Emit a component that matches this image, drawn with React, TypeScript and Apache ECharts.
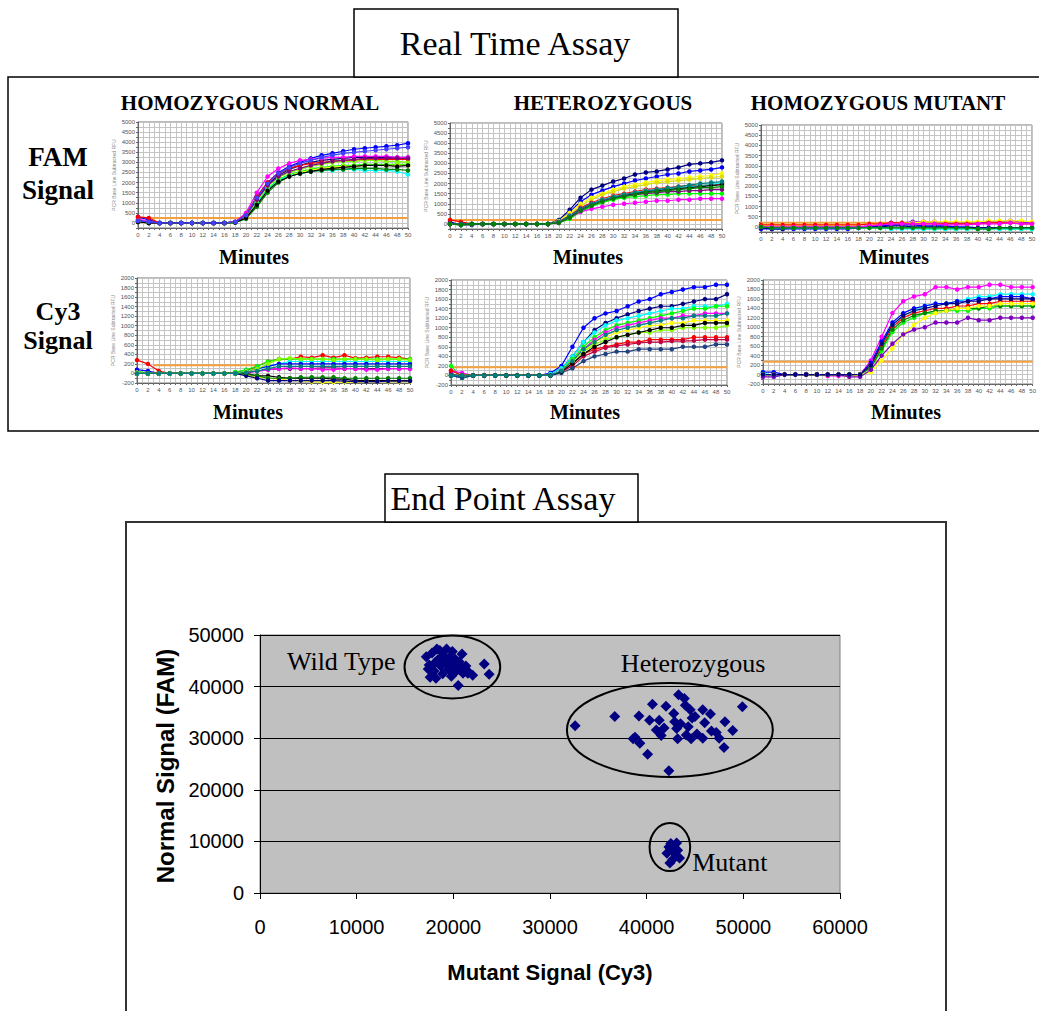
import React, { useEffect, useRef } from "react";
import * as echarts from "echarts";

const SERIF = '"Liberation Serif", "Times New Roman", serif';
const SANS = '"Liberation Sans", Arial, sans-serif';

// ---- Real-time assay data (RFU, read every 2 minutes) ----
const MINUTES = [0, 2, 4, 6, 8, 10, 12, 14, 16, 18, 20, 22, 24, 26, 28, 30, 32, 34, 36, 38, 40, 42, 44, 46, 48, 50];

const FAM_NORMAL = [
  [300, 150, 0, 0, 0, 0, 0, 0, 0, 50, 400, 1300, 2000, 2500, 2800, 3000, 3200, 3350, 3450, 3550, 3650, 3700, 3750, 3800, 3850, 3950],
  [150, 50, 0, 0, 0, 0, 0, 0, 0, 40, 350, 1200, 1900, 2350, 2650, 2850, 3000, 3100, 3150, 3200, 3250, 3250, 3250, 3250, 3250, 3250],
  [200, 50, 0, 0, 0, 0, 0, 0, 0, 60, 500, 1500, 2300, 2700, 2950, 3100, 3150, 3200, 3250, 3250, 3300, 3300, 3300, 3300, 3250, 3250],
  [300, 250, 0, 0, 0, 0, 0, 0, 0, 50, 400, 1300, 2000, 2450, 2700, 2850, 2950, 3000, 3050, 3100, 3100, 3150, 3150, 3150, 3150, 3150],
  [100, 0, 0, 0, 0, 0, 0, 0, 0, 30, 300, 1000, 1700, 2150, 2400, 2550, 2650, 2750, 2800, 2850, 2850, 2900, 2900, 2900, 2900, 2900],
  [50, 0, 0, 0, 0, 0, 0, 0, 0, 30, 250, 900, 1600, 2100, 2350, 2500, 2600, 2700, 2750, 2800, 2800, 2850, 2850, 2850, 2850, 2850],
  [100, 0, 0, 0, 0, 0, 0, 0, 0, 20, 250, 950, 1650, 2100, 2350, 2450, 2550, 2600, 2600, 2650, 2650, 2600, 2600, 2600, 2550, 2400],
  [50, 0, 0, 0, 0, 0, 0, 0, 0, 20, 200, 800, 1500, 2000, 2300, 2450, 2550, 2600, 2650, 2650, 2700, 2700, 2700, 2650, 2650, 2600],
  [80, 0, 0, 0, 0, 0, 0, 0, 0, 30, 300, 1100, 1800, 2250, 2500, 2650, 2800, 2900, 3000, 3050, 3050, 3100, 3100, 3050, 3050, 3000],
  [100, 0, 0, 0, 0, 0, 0, 0, 0, 40, 350, 1150, 1850, 2300, 2550, 2700, 2850, 2950, 3050, 3100, 3150, 3200, 3200, 3200, 3200, 3200],
  [50, 0, 0, 0, 0, 0, 0, 0, 0, 20, 250, 900, 1600, 2050, 2300, 2450, 2550, 2650, 2700, 2750, 2800, 2850, 2850, 2850, 2800, 2850],
  [100, 50, 0, 0, 0, 0, 0, 0, 0, 50, 380, 1250, 1950, 2450, 2750, 2950, 3100, 3250, 3350, 3450, 3500, 3550, 3600, 3650, 3700, 3750],
];
const FAM_NORMAL_COLORS = ["#0000FF", "#000080", "#FF00FF", "#FF0000", "#00FF00", "#FFFF00", "#00FFFF", "#008000", "#80FF00", "#800080", "#000000", "#4040FF"];

const FAM_HET = [
  [100, -50, -50, 0, 0, 0, 0, 0, 0, 0, 200, 700, 1300, 1700, 1900, 2100, 2250, 2450, 2550, 2600, 2700, 2800, 2950, 3000, 3050, 3150],
  [50, -50, 0, 0, 0, 0, 0, 0, 0, 0, 150, 600, 1100, 1450, 1650, 1850, 2000, 2150, 2250, 2350, 2450, 2500, 2600, 2650, 2700, 2800],
  [0, -50, 0, 0, 0, 0, 0, 0, 0, 0, 150, 550, 1000, 1300, 1500, 1700, 1850, 1950, 2050, 2150, 2200, 2250, 2300, 2350, 2400, 2500],
  [0, 0, 0, 0, 0, 0, 0, 0, 0, 0, 100, 450, 900, 1200, 1450, 1600, 1750, 1850, 1950, 2050, 2100, 2150, 2200, 2250, 2300, 2350],
  [200, 100, 0, 0, 0, 0, 0, 0, 0, 0, 100, 400, 800, 1050, 1250, 1400, 1500, 1600, 1700, 1750, 1800, 1850, 1900, 1900, 1950, 2000],
  [0, -50, 0, 0, 0, 0, 0, 0, 0, 0, 50, 250, 600, 850, 1050, 1200, 1300, 1350, 1400, 1450, 1450, 1500, 1500, 1500, 1500, 1500],
  [0, 0, 0, 0, 0, 0, 0, 0, 0, 0, 50, 300, 600, 750, 850, 950, 1000, 1050, 1100, 1150, 1150, 1200, 1200, 1250, 1250, 1250],
  [0, -50, 0, 0, 0, 0, 0, 0, 0, 0, 100, 400, 750, 1000, 1200, 1350, 1450, 1550, 1650, 1700, 1750, 1800, 1850, 1900, 1950, 2050],
  [0, 0, 0, 0, 0, 0, 0, 0, 0, 0, 80, 350, 700, 950, 1150, 1300, 1400, 1500, 1600, 1650, 1700, 1750, 1800, 1850, 1900, 1950],
  [0, -50, 0, 0, 0, 0, 0, 0, 0, 0, 100, 400, 750, 1000, 1150, 1300, 1400, 1450, 1500, 1550, 1600, 1600, 1650, 1650, 1700, 1700],
  [0, 0, 0, 0, 0, 0, 0, 0, 0, 0, 100, 380, 720, 980, 1180, 1330, 1450, 1550, 1620, 1700, 1780, 1850, 1920, 2000, 2050, 2100],
  [0, -50, 0, 0, 0, 0, 0, 0, 0, 0, 60, 300, 650, 900, 1100, 1250, 1350, 1450, 1550, 1600, 1650, 1700, 1750, 1800, 1800, 1850],
];
const FAM_HET_COLORS = ["#000080", "#0000FF", "#FFFF00", "#E0E000", "#FF0000", "#00FF00", "#FF00FF", "#00FFFF", "#000000", "#800080", "#008080", "#008000"];

const FAM_MUT = [
  [50, -50, -50, 0, -50, 0, 0, -50, -20, 0, 50, 100, 200, 200, 250, 250, 250, 200, 200, 200, 200, 250, 250, 300, 250, 200],
  [100, 100, 100, 100, 100, 100, 100, 100, 100, 100, 150, 150, 150, 200, 200, 250, 250, 250, 250, 250, 250, 300, 300, 300, 300, 250],
  [0, 0, 0, 0, 0, 0, 0, 0, 0, 0, -20, -50, -50, -50, -50, -100, -100, -100, -100, -100, -100, -100, -100, -100, -100, -100],
  [-100, -100, -100, -100, -100, -100, -100, -100, -100, -50, 0, 50, 100, 100, 100, 50, 50, 50, 0, 0, -50, -50, -50, -50, -50, -50],
  [-50, -100, -100, -50, -50, -50, -50, -50, -50, -50, 0, 0, 50, 50, 0, 0, 0, 0, -50, -50, -50, -50, -50, -50, -50, -50],
  [100, 100, 100, 100, 100, 100, 100, 100, 100, 100, 150, 150, 200, 200, 150, 150, 150, 150, 150, 150, 150, 200, 200, 200, 150, 150],
  [0, -50, -50, -50, -50, -50, -50, -50, -50, -50, -50, -50, -100, -100, -100, -100, -100, -100, -100, -100, -100, -100, -100, -100, -100, -100],
  [0, 0, 0, 0, 0, 0, 0, 0, 0, 0, 50, 100, 150, 150, 150, 150, 150, 100, 100, 100, 150, 150, 150, 200, 150, 150],
  [0, -50, -50, -50, -50, -50, -50, -50, -50, -50, -50, -50, -50, -50, -50, -50, -50, -50, -50, -50, -100, -100, -50, -50, -50, -50],
];
const FAM_MUT_COLORS = ["#8000FF", "#FFFF00", "#00FF00", "#0000FF", "#000080", "#FF0000", "#00FFFF", "#FF00FF", "#008000"];

const CY3_NORMAL = [
  [280, 200, 50, 0, 0, 0, 0, 0, 0, 20, 50, 150, 250, 300, 300, 350, 330, 380, 330, 380, 320, 330, 350, 350, 330, 300],
  [50, 0, 0, 0, 0, 0, 0, 0, 0, 30, 80, 150, 250, 300, 300, 300, 300, 300, 300, 300, 300, 300, 300, 300, 300, 300],
  [0, 0, 0, 0, 0, 0, 0, 0, 0, 0, 50, 100, 150, 200, 250, 250, 250, 250, 250, 250, 250, 250, 250, 250, 250, 250],
  [80, 50, 0, 0, 0, 0, 0, 0, 0, 0, 50, 100, 150, 200, 200, 200, 200, 200, 200, 200, 200, 200, 200, 200, 200, 200],
  [0, 0, 0, 0, 0, 0, 0, 0, 0, 0, 30, 50, 80, 100, 100, 100, 100, 120, 120, 100, 100, 100, 100, 100, 100, 100],
  [0, 0, 0, 0, 0, 0, 0, 0, 0, 0, 0, 50, 80, 100, 120, 100, 100, 80, 80, 100, 100, 80, 80, 100, 100, 100],
  [0, 0, 0, 0, 0, 0, 0, 0, 0, 0, 0, -50, -50, -80, -100, -100, -100, -100, -120, -120, -150, -150, -150, -150, -150, -150],
  [20, 0, 0, 0, 0, 0, 0, 0, 0, 0, -30, -80, -100, -120, -150, -150, -170, -180, -180, -180, -180, -170, -170, -170, -170, -170],
  [0, 0, 0, 0, 0, 0, 0, 0, 0, 0, -20, -50, -100, -100, -100, -80, -80, -80, -80, -100, -100, -100, -100, -100, -100, -100],
  [0, 0, 0, 0, 0, 0, 0, 0, 0, 0, -50, -100, -150, -150, -150, -150, -150, -150, -150, -160, -170, -170, -170, -160, -160, -160],
  [0, 0, 0, 0, 0, 0, 0, 0, 0, 0, 50, 100, 200, 300, 320, 300, 300, 300, 280, 300, 300, 300, 280, 300, 300, 280],
  [0, 0, 0, 0, 0, 0, 0, 0, 0, 0, 20, 50, 100, 150, 150, 150, 150, 150, 150, 150, 150, 150, 150, 150, 150, 150],
];
const CY3_NORMAL_COLORS = ["#FF0000", "#00FF00", "#00FFFF", "#0000FF", "#800080", "#FF00FF", "#000000", "#FFFF00", "#008000", "#000080", "#80FF00", "#008080"];

const CY3_HET = [
  [50, -50, 0, 0, 0, 0, 0, 0, 0, 50, 200, 600, 1000, 1200, 1300, 1350, 1450, 1550, 1600, 1700, 1750, 1800, 1850, 1850, 1900, 1900],
  [0, -50, 0, 0, 0, 0, 0, 0, 0, 30, 150, 400, 700, 950, 1100, 1200, 1280, 1350, 1400, 1450, 1450, 1500, 1550, 1600, 1600, 1700],
  [0, -50, 0, 0, 0, 0, 0, 0, 0, 30, 150, 400, 700, 900, 1050, 1150, 1200, 1250, 1300, 1350, 1400, 1400, 1450, 1450, 1450, 1500],
  [200, -50, 0, 0, 0, 0, 0, 0, 0, 0, 100, 350, 600, 800, 950, 1050, 1100, 1150, 1200, 1250, 1300, 1350, 1400, 1400, 1450, 1450],
  [100, 50, 0, 0, 0, 0, 0, 0, 0, 0, 100, 300, 550, 750, 900, 1000, 1050, 1100, 1150, 1200, 1200, 1250, 1250, 1300, 1300, 1300],
  [0, 0, 0, 0, 0, 0, 0, 0, 0, 0, 100, 300, 500, 700, 800, 900, 950, 1000, 1050, 1050, 1100, 1100, 1150, 1150, 1150, 1150],
  [100, 0, 0, 0, 0, 0, 0, 0, 0, 0, 80, 250, 450, 550, 600, 650, 700, 700, 750, 750, 750, 750, 800, 800, 800, 800],
  [0, 0, 0, 0, 0, 0, 0, 0, 0, 0, 80, 200, 400, 500, 580, 620, 650, 680, 700, 700, 720, 720, 730, 750, 750, 750],
  [0, 0, 0, 0, 0, 0, 0, 0, 0, 0, 80, 300, 500, 650, 750, 800, 850, 900, 900, 950, 950, 1000, 1000, 1000, 1000, 1050],
  [0, -50, 0, 0, 0, 0, 0, 0, 0, 0, 50, 150, 300, 400, 450, 500, 500, 550, 550, 550, 550, 600, 600, 600, 650, 650],
  [0, 0, 0, 0, 0, 0, 0, 0, 0, 0, 80, 250, 450, 600, 700, 800, 850, 900, 950, 1000, 1000, 1050, 1050, 1100, 1100, 1100],
  [0, 0, 0, 0, 0, 0, 0, 0, 0, 0, 100, 300, 550, 700, 850, 950, 1000, 1050, 1100, 1150, 1200, 1200, 1250, 1250, 1250, 1300],
];
const CY3_HET_COLORS = ["#0000FF", "#000080", "#00FFFF", "#00FF00", "#FF00FF", "#FFFF00", "#FF0000", "#C00040", "#80FF00", "#204080", "#000000", "#008080"];

const CY3_MUT = [
  [0, 0, 0, 0, 0, 0, -30, -30, -30, 0, 300, 800, 1300, 1550, 1650, 1700, 1850, 1850, 1800, 1850, 1850, 1900, 1900, 1850, 1850, 1850],
  [50, -50, 0, 0, 0, 0, 0, 0, 0, 0, 200, 650, 1050, 1250, 1350, 1450, 1500, 1500, 1550, 1600, 1650, 1650, 1700, 1700, 1700, 1700],
  [50, 50, 0, 0, 0, 0, 0, 0, 0, 0, 250, 700, 1100, 1300, 1400, 1450, 1500, 1500, 1550, 1550, 1600, 1600, 1650, 1650, 1650, 1600],
  [0, 0, 0, 0, 0, 0, 0, 0, 0, 0, 200, 600, 1000, 1200, 1300, 1350, 1400, 1400, 1450, 1450, 1500, 1500, 1550, 1550, 1550, 1550],
  [0, 0, 0, 0, 0, 0, 0, 0, 0, 0, 150, 500, 900, 1100, 1200, 1300, 1300, 1350, 1350, 1350, 1400, 1400, 1450, 1450, 1450, 1450],
  [0, 0, 0, 0, 0, 0, 0, 0, 0, 0, 150, 550, 950, 1150, 1250, 1300, 1350, 1350, 1400, 1400, 1400, 1450, 1450, 1450, 1450, 1450],
  [0, 0, 0, 0, 0, 0, 0, 0, -50, 0, 50, 300, 550, 850, 1050, 1200, 1300, 1350, 1400, 1400, 1450, 1450, 1500, 1500, 1500, 1500],
  [-50, -50, 0, 0, 0, 0, 0, 0, -50, -50, 100, 400, 650, 850, 950, 1000, 1100, 1100, 1100, 1200, 1150, 1150, 1200, 1200, 1200, 1200],
  [0, 0, 0, 0, 0, 0, 0, 0, 0, 0, 200, 650, 1050, 1250, 1350, 1400, 1450, 1500, 1500, 1550, 1550, 1600, 1600, 1600, 1600, 1600],
];
const CY3_MUT_COLORS = ["#FF00FF", "#00FFFF", "#0000FF", "#FF0000", "#00FF00", "#008000", "#FFFF00", "#8000C0", "#000080"];

const THRESHOLDS = [250, 200, 200, 170, 170, 270];
const THRESHOLD_FROM = [0, 0, 0, 3, 0, 0];
const THRESHOLD_TO = [50, 50, 50, 22, 50, 50];

const COLUMN_TITLES = ["HOMOZYGOUS NORMAL", "HETEROZYGOUS", "HOMOZYGOUS MUTANT"];
const ROW_TITLES = [["FAM", "Signal"], ["Cy3", "Signal"]];
const FAM_AXIS = { min: -250, max: 5000, step: 250, labelStep: 500 };
const CY3_AXIS = { min: -200, max: 2000, step: 100, labelStep: 200 };

// ---- End point assay data (Cy3 mutant signal, FAM normal signal) ----
const WILD_X = [17200, 17500, 17800, 18000, 18200, 18400, 18600, 18700, 18900, 19000, 19200, 19300, 19500, 19600, 19800, 19900, 20000, 20200, 20300, 20500, 20600, 20800, 21000, 21300, 21600, 22000, 23200, 23700, 17600, 18100, 20900, 18300, 17400, 20700, 21500];
const WILD_Y = [45800, 44200, 46500, 43000, 41600, 45200, 47000, 44000, 42500, 46000, 44800, 47300, 43400, 45600, 42000, 46800, 44300, 45300, 43000, 40200, 44800, 43700, 42600, 44000, 42800, 42200, 44400, 42400, 41800, 44600, 46300, 47300, 43400, 43900, 42600];
const HET_X = [32600, 36700, 39200, 40300, 40600, 41300, 41000, 41800, 38600, 39300, 40100, 42300, 42800, 42900, 43100, 43200, 43300, 43900, 44000, 44500, 44700, 45000, 44300, 44100, 44600, 45800, 46600, 45800, 46700, 47200, 48100, 48900, 48000, 49900, 42000, 43500, 41500, 46000, 47500, 45200, 38800];
const HET_Y = [32400, 34200, 34300, 33500, 36600, 33500, 31600, 32000, 29900, 29000, 26900, 23700, 34800, 33200, 31900, 29900, 38400, 37700, 36400, 35500, 33900, 34200, 32200, 30600, 29900, 35500, 34700, 30000, 31400, 31100, 33200, 31500, 28200, 36100, 36200, 32800, 30500, 33000, 30000, 30800, 30200];
const MUT_X = [42500, 43100, 42100, 43000, 42400, 43400, 42800, 42300, 43200, 42700];
const MUT_Y = [9600, 9700, 7700, 7400, 5800, 6800, 8400, 8900, 8300, 6500];

const GROUP_LABELS = ["Wild Type", "Heterozygous", "Mutant"];
const GROUP_CX = [19900, 42400, 42400];
const GROUP_CY = [43800, 31600, 8900];
const GROUP_RX = [4950, 10650, 2100];
const GROUP_RY = [6100, 9100, 4650];
const LABEL_X = [8400, 44800, 48600];
const LABEL_Y = [44900, 44500, 6000];

export default function App() {
  const ref = useRef<HTMLDivElement>(null);

  useEffect(() => {
    const chart = echarts.init(ref.current!, null, { renderer: "svg" });

    const panelData = [FAM_NORMAL, FAM_HET, FAM_MUT, CY3_NORMAL, CY3_HET, CY3_MUT];
    const panelColors = [FAM_NORMAL_COLORS, FAM_HET_COLORS, FAM_MUT_COLORS, CY3_NORMAL_COLORS, CY3_HET_COLORS, CY3_MUT_COLORS];
    const boxes = [
      { left: 138, top: 122, width: 270, height: 106 },
      { left: 450, top: 123, width: 272, height: 106 },
      { left: 761, top: 125, width: 271, height: 107 },
      { left: 137, top: 278, width: 273, height: 105 },
      { left: 451, top: 280, width: 276, height: 105 },
      { left: 763, top: 280, width: 272, height: 104 },
    ];

    const grids: any[] = [];
    const xAxes: any[] = [];
    const yAxes: any[] = [];
    const series: any[] = [];

    boxes.forEach((b, i) => {
      const ax = i < 3 ? FAM_AXIS : CY3_AXIS;
      grids.push({ ...b, show: true, backgroundColor: "#ffffff", borderColor: "#777777", borderWidth: 1 });
      xAxes.push({
        gridIndex: i, type: "value", min: 0, max: 50, interval: 1,
        axisLine: { show: true, onZero: false, lineStyle: { color: "#666" } },
        axisTick: { show: true, length: 2, lineStyle: { color: "#666" } },
        axisLabel: { fontSize: 6, color: "#555", margin: 4, fontFamily: SANS, formatter: (v: number) => (v % 2 === 0 ? String(v) : "") },
        splitLine: { show: true, lineStyle: { color: "#c4c4c4", width: 1 } },
      });
      yAxes.push({
        gridIndex: i, type: "value", min: ax.min, max: ax.max, interval: ax.step,
        name: "PCR Base Line Subtracted RFU", nameLocation: "middle", nameGap: 22,
        nameTextStyle: { fontSize: 5, color: "#888", fontFamily: SANS },
        axisLine: { show: true, onZero: false, lineStyle: { color: "#666" } },
        axisTick: { show: true, length: 2, lineStyle: { color: "#666" } },
        axisLabel: { fontSize: 6, color: "#555", margin: 3, fontFamily: SANS, formatter: (v: number) => (v % ax.labelStep === 0 ? String(v) : "") },
        splitLine: { show: true, lineStyle: { color: "#c4c4c4", width: 1 } },
      });
      series.push({
        type: "line", xAxisIndex: i, yAxisIndex: i, symbol: "none", silent: true, z: 2,
        lineStyle: { color: "#F5A040", width: 2 },
        data: [[THRESHOLD_FROM[i], THRESHOLDS[i]], [THRESHOLD_TO[i], THRESHOLDS[i]]],
      });
      panelData[i].forEach((vals, k) => {
        const c = panelColors[i][k];
        series.push({
          type: "line", xAxisIndex: i, yAxisIndex: i, z: 3, silent: true,
          symbol: "circle", symbolSize: 4.5, showSymbol: true,
          lineStyle: { color: c, width: 1.2 }, itemStyle: { color: c },
          data: MINUTES.map((m, j) => [m, vals[j]]),
        });
      });
    });

    // End point scatter
    grids.push({ left: 260, top: 635, width: 580, height: 258, show: true, backgroundColor: "#C0C0C0", borderColor: "#808080", borderWidth: 1 });
    xAxes.push({
      gridIndex: 6, type: "value", min: 0, max: 60000, interval: 10000,
      axisLine: { show: true, onZero: false, lineStyle: { color: "#000", width: 1 } },
      axisTick: { show: true, length: 6, lineStyle: { color: "#000" } },
      axisLabel: { fontSize: 20, color: "#000", margin: 24, fontFamily: SANS, formatter: (v: number) => String(v) },
      splitLine: { show: false },
    });
    yAxes.push({
      gridIndex: 6, type: "value", min: 0, max: 50000, interval: 10000,
      axisLine: { show: true, onZero: false, lineStyle: { color: "#000", width: 1 } },
      axisTick: { show: true, length: 6, lineStyle: { color: "#000" } },
      axisLabel: { fontSize: 20, color: "#000", margin: 16, fontFamily: SANS, formatter: (v: number) => String(v) },
      splitLine: { show: true, lineStyle: { color: "#000", width: 1 } },
    });
    const scatterPts = [
      ...WILD_X.map((x, i) => [x, WILD_Y[i]]),
      ...HET_X.map((x, i) => [x, HET_Y[i]]),
      ...MUT_X.map((x, i) => [x, MUT_Y[i]]),
    ];
    series.push({
      type: "scatter", xAxisIndex: 6, yAxisIndex: 6, symbol: "diamond", symbolSize: 11, z: 5,
      itemStyle: { color: "#000080", opacity: 1 }, data: scatterPts, silent: true,
    });

    chart.setOption({
      animation: false,
      backgroundColor: "#ffffff",
      grid: grids, xAxis: xAxes, yAxis: yAxes, series,
    });

    const txt = (x: number, y: number, text: string, size: number, family: string, weight = "normal", z = 50) => ({
      type: "text", x, y, z,
      style: { text, fontSize: size, fontFamily: family, fontWeight: weight, fill: "#000", align: "center", verticalAlign: "middle" },
    });

    const graphics: any[] = [
      { type: "rect", z: 1, shape: { x: 8, y: 77, width: 1040, height: 354 }, style: { fill: "none", stroke: "#000", lineWidth: 1.5 } },
      { type: "rect", z: 1, shape: { x: 354, y: 9, width: 324, height: 68 }, style: { fill: "#fff", stroke: "#000", lineWidth: 1.5 } },
      txt(515, 43, "Real Time Assay", 34, SERIF),
      txt(250, 103, COLUMN_TITLES[0], 21, SERIF, "bold"),
      txt(603, 103, COLUMN_TITLES[1], 21, SERIF, "bold"),
      txt(878, 103, COLUMN_TITLES[2], 21, SERIF, "bold"),
      txt(58, 157, ROW_TITLES[0][0], 27, SERIF, "bold"),
      txt(58, 190, ROW_TITLES[0][1], 27, SERIF, "bold"),
      txt(58, 311, ROW_TITLES[1][0], 26, SERIF, "bold"),
      txt(58, 340, ROW_TITLES[1][1], 26, SERIF, "bold"),
      txt(254, 257, "Minutes", 20, SERIF, "bold"),
      txt(588, 257, "Minutes", 20, SERIF, "bold"),
      txt(894, 257, "Minutes", 20, SERIF, "bold"),
      txt(248, 412, "Minutes", 20, SERIF, "bold"),
      txt(585, 412, "Minutes", 20, SERIF, "bold"),
      txt(906, 412, "Minutes", 20, SERIF, "bold"),
      { type: "rect", z: 1, shape: { x: 126, y: 522, width: 820, height: 520 }, style: { fill: "none", stroke: "#333", lineWidth: 2 } },
      { type: "rect", z: 1, shape: { x: 385, y: 474, width: 253, height: 48 }, style: { fill: "#fff", stroke: "#000", lineWidth: 1.5 } },
      txt(503, 498, "End Point Assay", 34, SERIF),
      txt(550, 972, "Mutant Signal (Cy3)", 22, SANS, "bold"),
      { ...txt(165, 766, "Normal Signal (FAM)", 24, SANS, "bold"), rotation: Math.PI / 2 },
    ];

    GROUP_LABELS.forEach((label, i) => {
      const c = chart.convertToPixel({ gridIndex: 6 }, [GROUP_CX[i], GROUP_CY[i]]) as number[];
      const ex = chart.convertToPixel({ gridIndex: 6 }, [GROUP_CX[i] + GROUP_RX[i], GROUP_CY[i] + GROUP_RY[i]]) as number[];
      graphics.push({
        type: "ellipse", z: 60,
        shape: { cx: c[0], cy: c[1], rx: Math.abs(ex[0] - c[0]), ry: Math.abs(ex[1] - c[1]) },
        style: { fill: "none", stroke: "#000", lineWidth: 2 },
      });
      const lp = chart.convertToPixel({ gridIndex: 6 }, [LABEL_X[i], LABEL_Y[i]]) as number[];
      graphics.push(txt(lp[0], lp[1], label, 26, SERIF, "normal", 60));
    });

    chart.setOption({ graphic: graphics });

    return () => chart.dispose();
  }, []);

  return (
    <div
      ref={ref}
      style={{ position: "absolute", left: 0, top: 0, width: 1039, height: 1011, background: "#fff" }}
    />
  );
}
